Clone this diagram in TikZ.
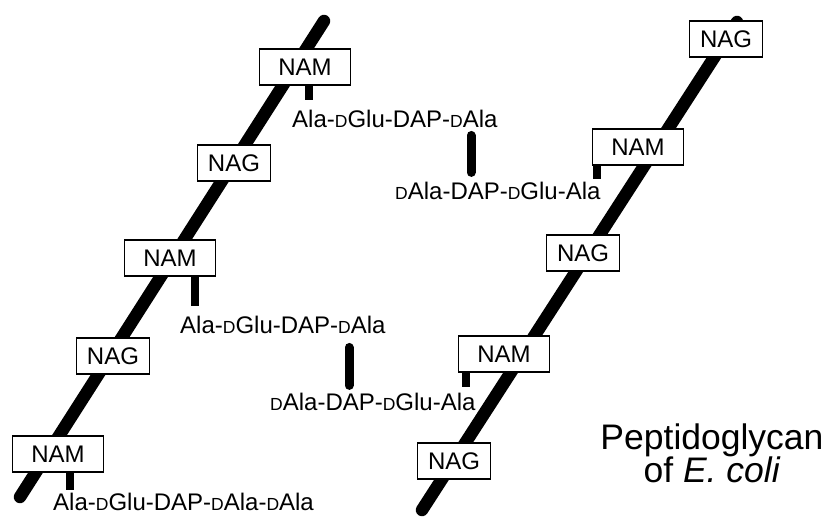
\documentclass[tikz,border=0pt]{standalone}
\usepackage{fontspec}
\setmainfont{Liberation Sans}
\usetikzlibrary{calc}
\newcommand\sD{{\fontsize{17.5}{17.5}\selectfont D}}
\begin{document}
\begin{tikzpicture}[x=1pt,y=-1pt,
  strand/.style={line width=12.5pt,line cap=round},
  sugar/.style={draw,line width=1.3pt,fill=white,inner sep=0pt,
    minimum height=36pt,font=\fontsize{24}{24}\selectfont},
  nam/.style={sugar,minimum width=91pt},
  nag/.style={sugar,minimum width=73pt},
  pep/.style={inner sep=0pt,anchor=base west,font=\fontsize{24}{24}\selectfont},
  stub/.style={line width=8pt},
  xlink/.style={line width=9pt,line cap=round},
  title/.style={inner sep=0pt,anchor=base,font=\fontsize{35.5}{35.5}\selectfont}]
\useasboundingbox (0,0) rectangle (828,518);
% glycan strands
\draw[strand] (20,497) -- (324,21);
\draw[strand] (737,22) -- (422,510);
% left strand sugars
\node[nam] (nam1) at (305,67) {NAM};
\node[nag] (nag1) at (234,163) {NAG};
\node[nam] (nam2) at (170,258) {NAM};
\node[nag] (nag2) at (113,356) {NAG};
\node[nam] (nam3) at (58,454) {NAM};
% right strand sugars
\node[nag] (nag3) at (726,39) {NAG};
\node[nam] (nam4) at (638,147) {NAM};
\node[nag] (nag4) at (583,253) {NAG};
\node[nam] (nam5) at (504,354) {NAM};
\node[nag] (nag5) at (454,461) {NAG};
% peptides
\node[pep] (l1) at (292,128) {Ala-\sD Glu-DAP-\sD Ala};
\node[pep] (l2) at (395,200) {\sD Ala-DAP-\sD Glu-Ala};
\node[pep] (l3) at (180,334) {Ala-\sD Glu-DAP-\sD Ala};
\node[pep] (l4) at (270,411) {\sD Ala-DAP-\sD Glu-Ala};
\node[pep] (l5) at (53,511) {Ala-\sD Glu-DAP-\sD Ala-\sD Ala};
% stubs
\coordinate (s1) at (309,100);
\coordinate (s2) at (195,306);
\coordinate (s3) at (70,490);
\coordinate (s4) at (597,179);
\coordinate (s5) at (466,387);
\draw[stub] (nam1.south -| s1) -- (s1);
\draw[stub] (nam2.south -| s2) -- (s2);
\draw[stub] (nam3.south -| s3) -- (s3);
\draw[stub] (nam4.south -| s4) -- (s4);
\draw[stub] (nam5.south -| s5) -- (s5);
% cross-links
\coordinate (x1) at (471,0);
\coordinate (x2) at (349,0);
\draw[xlink] ($(l1.south -| x1)+(0,7)$) -- ($(l2.north -| x1)+(0,-10)$);
\draw[xlink] ($(l3.south -| x2)+(0,13)$) -- ($(l4.north -| x2)+(0,-8)$);
% title
\node[title] (t1) at (712,450) {Peptidoglycan};
\node[title] (t2) at (712,483) {of \textit{E. coli}};
\end{tikzpicture}
\end{document}
